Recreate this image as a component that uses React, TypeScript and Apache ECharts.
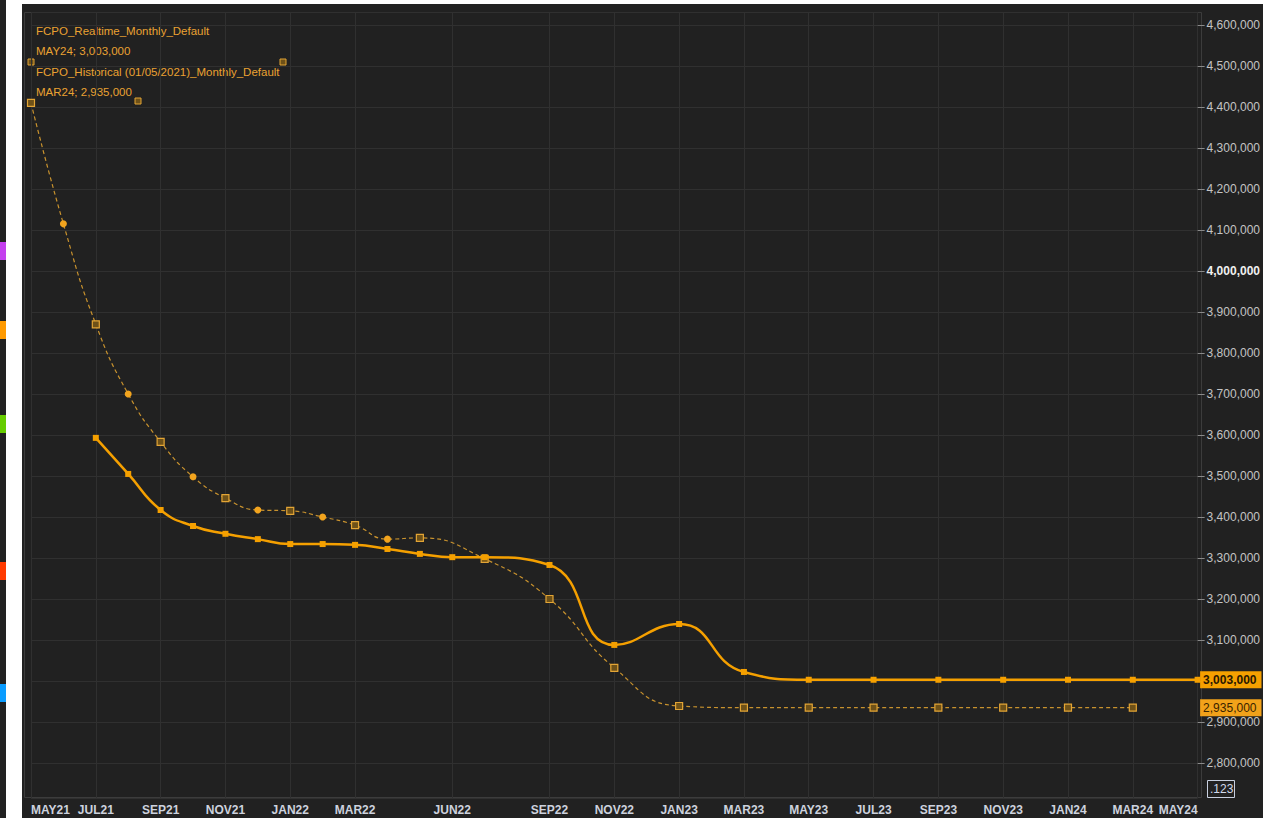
import React, { useEffect, useRef } from "react";
import * as echarts from "echarts";

const MONTHS = [
  "MAY21", "JUN21", "JUL21", "AUG21", "SEP21", "OCT21", "NOV21", "DEC21",
  "JAN22", "FEB22", "MAR22", "APR22", "MAY22", "JUN22", "JUL22", "AUG22", "SEP22", "OCT22", "NOV22", "DEC22",
  "JAN23", "FEB23", "MAR23", "APR23", "MAY23", "JUN23", "JUL23", "AUG23", "SEP23", "OCT23", "NOV23", "DEC23",
  "JAN24", "FEB24", "MAR24", "APR24", "MAY24",
];

const SHOWN_LABELS = [
  "MAY21", "JUL21", "SEP21", "NOV21", "JAN22", "MAR22", "JUN22", "SEP22", "NOV22",
  "JAN23", "MAR23", "MAY23", "JUL23", "SEP23", "NOV23", "JAN24", "MAR24", "MAY24",
];

const REALTIME: (number | null)[] = [
  null, null, 3593000, 3505000, 3417000, 3378000, 3359000, 3346000,
  3334000, 3334000, 3332000, 3322000, 3310000, 3302000, 3302000, null, 3283000, null, 3088000, null,
  3139000, null, 3022000, null, 3003000, null, 3003000, null, 3003000, null, 3003000, null,
  3003000, null, 3003000, null, 3003000,
];

const HISTORICAL: (number | null)[] = [
  4410000, 4115000, 3870000, 3700000, 3583000, 3498000, 3446000, 3417000,
  3415000, 3400000, 3380000, 3346000, 3349000, null, 3298000, null, 3200000, null, 3032000, null,
  2939000, null, 2935000, null, 2935000, null, 2935000, null, 2935000, null, 2935000, null,
  2935000, null, 2935000, null, null,
];

const RT_NAME = "FCPO_Realtime_Monthly_Default";
const HIST_NAME = "FCPO_Historical (01/05/2021)_Monthly_Default";

const FONT = "'Liberation Sans', Arial, sans-serif";
const ORANGE = "#f5a000";
const HIST_COLOR = "#c8922e";

function fmt(v: number) {
  return v.toLocaleString("en-US");
}

function lastIndex(arr: (number | null)[]) {
  for (let i = arr.length - 1; i >= 0; i--) if (arr[i] != null) return i;
  return -1;
}

export default function App() {
  const ref = useRef<HTMLDivElement>(null);

  useEffect(() => {
    if (!ref.current) return;
    const chart = echarts.init(ref.current, undefined, { renderer: "svg" });

    const rtLast = lastIndex(REALTIME);
    const hiLast = lastIndex(HISTORICAL);
    const rtLastVal = REALTIME[rtLast] as number;
    const hiLastVal = HISTORICAL[hiLast] as number;
    const rightCat = MONTHS[MONTHS.length - 1];

    const histData = HISTORICAL.map((v, i) => {
      if (v == null) return null;
      const isRect = i % 2 === 0;
      return {
        value: v,
        symbol: isRect ? "rect" : "circle",
        symbolSize: 7,
        itemStyle: isRect
          ? { color: "#6e5118", borderColor: "#e3a535", borderWidth: 1.2 }
          : { color: "#f2a41e", borderWidth: 0 },
      };
    });

    const showFn = (_i: number, val: string) => SHOWN_LABELS.includes(val);

    const textStyle = (y: number, text: string) => ({
      type: "text",
      left: 36,
      top: y,
      silent: true,
      style: {
        text,
        fill: "#eaa232",
        font: `11.5px ${FONT}`,
      },
    });

    const deco = (x: number, y: number) => ({
      type: "rect",
      silent: true,
      shape: { x: x - 3, y: y - 3, width: 6, height: 6 },
      style: { fill: "#6e5118", stroke: "#e3a535", lineWidth: 1 },
    });

    const leftBar = (y: number, color: string) => ({
      type: "rect",
      silent: true,
      shape: { x: 0, y, width: 6, height: 18 },
      style: { fill: color },
    });

    chart.setOption({
      animation: false,
      backgroundColor: "#212121",
      grid: { left: 31, right: 65, top: 12, bottom: 20, containLabel: false },
      xAxis: {
        type: "category",
        data: MONTHS,
        boundaryGap: false,
        axisLine: { show: false },
        axisTick: { show: false },
        axisLabel: {
          interval: showFn,
          showMinLabel: true,
          showMaxLabel: true,
          hideOverlap: false,
          color: "#cdd2de",
          fontFamily: FONT,
          fontWeight: "bold",
          fontSize: 12,
          margin: 6,
          alignMinLabel: "left",
          alignMaxLabel: "right",
        },
        splitLine: { show: true, interval: showFn, lineStyle: { color: "#303030", width: 1 } },
      },
      yAxis: {
        type: "value",
        position: "right",
        min: 2714600,
        max: 4631700,
        splitNumber: 19,
        minInterval: 100000,
        maxInterval: 100000,
        axisLine: { show: false },
        axisTick: { show: true, length: 7, lineStyle: { color: "#8a8a8a" } },
        axisLabel: {
          showMinLabel: false,
          showMaxLabel: false,
          margin: 9,
          color: "#c4c4c4",
          fontFamily: FONT,
          fontSize: 12,
          formatter: (v: number) =>
            v === 3000000 ? "" : v === 4000000 ? `{b|${fmt(v)}}` : fmt(v),
          rich: {
            b: { color: "#f0f0f0", fontWeight: "bold", fontFamily: FONT, fontSize: 12 },
          },
        },
        splitLine: { show: true, lineStyle: { color: "#303030", width: 1 } },
      },
      series: [
        {
          name: HIST_NAME,
          type: "line",
          data: histData,
          connectNulls: true,
          smooth: 0.5,
          showAllSymbol: true,
          lineStyle: { color: HIST_COLOR, width: 1.2, type: [4, 3] },
          itemStyle: { color: HIST_COLOR },
          z: 2,
          markPoint: {
            symbol: "rect",
            symbolSize: 1,
            silent: true,
            itemStyle: { color: "rgba(0,0,0,0)" },
            data: [
              {
                coord: [rightCat, hiLastVal],
                label: {
                  show: true,
                  position: "right",
                  distance: 2,
                  formatter: () => fmt(hiLastVal),
                  backgroundColor: "#f2a21a",
                  color: "#3a2400",
                  fontFamily: FONT,
                  fontSize: 12,
                  padding: [3, 5, 2, 3],
                },
              },
            ],
          },
        },
        {
          name: RT_NAME,
          type: "line",
          data: REALTIME,
          connectNulls: true,
          smooth: 0.5,
          showAllSymbol: true,
          symbol: "rect",
          symbolSize: 6,
          lineStyle: { color: ORANGE, width: 2.5 },
          itemStyle: { color: ORANGE },
          z: 3,
          markPoint: {
            symbol: "rect",
            symbolSize: 1,
            silent: true,
            itemStyle: { color: "rgba(0,0,0,0)" },
            data: [
              {
                coord: [rightCat, rtLastVal],
                label: {
                  show: true,
                  position: "right",
                  distance: 2,
                  formatter: () => fmt(rtLastVal),
                  backgroundColor: ORANGE,
                  color: "#2a1800",
                  fontFamily: FONT,
                  fontWeight: "bold",
                  fontSize: 12,
                  padding: [3, 5, 2, 3],
                },
              },
            ],
          },
        },
      ],
      graphic: [
        { type: "rect", silent: true, shape: { x: 6, y: 0, width: 16, height: 818 }, style: { fill: "#ffffff" } },
        { type: "rect", silent: true, shape: { x: 22, y: 0, width: 1241, height: 4 }, style: { fill: "#ffffff" } },
        leftBar(242, "#c440ee"),
        leftBar(321, "#ff9a00"),
        leftBar(415, "#66cc00"),
        leftBar(562, "#ff3a00"),
        leftBar(684, "#0a9cff"),
        {
          type: "rect",
          silent: true,
          shape: { x: 24.5, y: 12.5, width: 1177, height: 785 },
          style: { fill: "none", stroke: "#3c3c3c", lineWidth: 1 },
        },
        textStyle(25, RT_NAME),
        textStyle(45, `${MONTHS[rtLast]}; ${fmt(rtLastVal)}`),
        textStyle(66, HIST_NAME),
        textStyle(86, `${MONTHS[hiLast]}; ${fmt(hiLastVal)}`),
        deco(31, 62),
        deco(283, 62),
        deco(138, 101),
        {
          type: "rect",
          silent: true,
          shape: { x: 1207.5, y: 780.5, width: 27, height: 17 },
          style: { fill: "none", stroke: "#c8d0e0", lineWidth: 1 },
        },
        {
          type: "text",
          silent: true,
          left: 1210,
          top: 783,
          style: { text: ".123", fill: "#cfd8ea", font: `12px ${FONT}` },
        },
      ],
    });

    return () => chart.dispose();
  }, []);

  return (
    <div
      ref={ref}
      style={{ position: "fixed", left: 0, top: 0, width: 1263, height: 818 }}
    />
  );
}
